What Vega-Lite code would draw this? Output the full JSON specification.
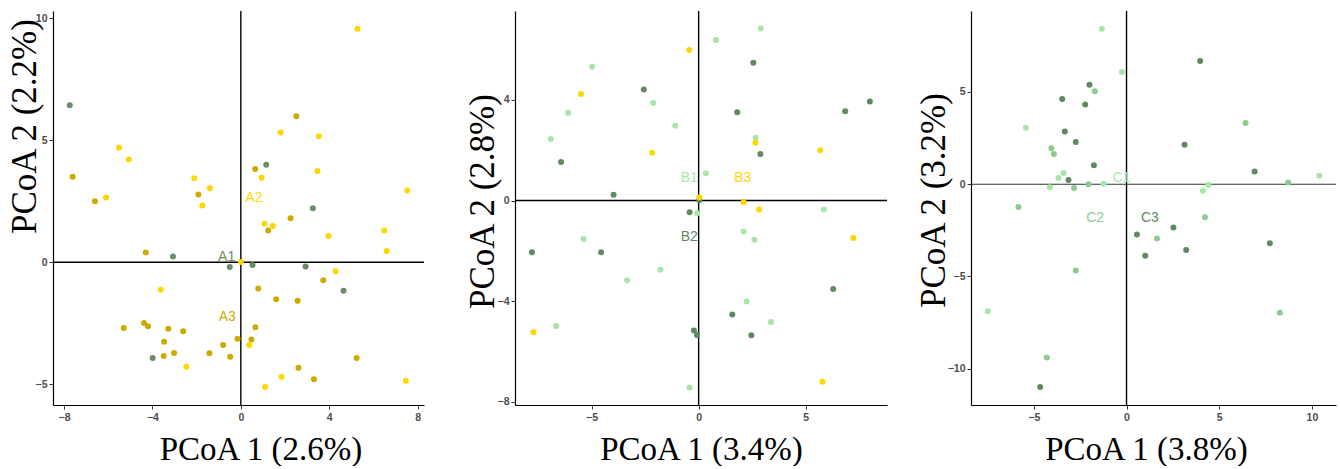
{
  "$schema": "https://vega.github.io/schema/vega-lite/v6.json",
  "padding": {"left": 6, "top": 10, "right": 0, "bottom": 0},
  "background": "white",
  "config": {
    "view": {"stroke": null},
    "axis": {
      "grid": false,
      "domainColor": "black",
      "domainWidth": 1.2,
      "tickColor": "#333333",
      "tickSize": 4,
      "tickWidth": 1,
      "labelFont": "Liberation Sans",
      "labelFontSize": 10.5,
      "labelFontWeight": "bold",
      "labelColor": "#4d4d4d",
      "titleFont": "Liberation Serif",
      "titleFontWeight": "normal",
      "titleColor": "black",
      "titleBaseline": "alphabetic",
      "titleAlign": "center"
    },
    "axisX": {"titleFontSize": 33, "labelPadding": 3, "titleY": 54},
    "axisY": {"titleFontSize": 35, "labelPadding": 2, "titleAngle": -90}
  },
  "resolve": {"scale": {"color": "independent"}},
  "datasets": {
    "p1": [
      {"x": -7.74, "y": 6.43, "g": "A1"}, {"x": 1.15, "y": 3.99, "g": "A1"}, {"x": 3.26, "y": 2.21, "g": "A1"},
      {"x": -3.07, "y": 0.23, "g": "A1"}, {"x": -0.5, "y": -0.2, "g": "A1"}, {"x": 0.53, "y": -0.12, "g": "A1"},
      {"x": 2.93, "y": -0.18, "g": "A1"}, {"x": 4.65, "y": -1.17, "g": "A1"}, {"x": -3.99, "y": -3.92, "g": "A1"},
      {"x": -5.51, "y": 4.7, "g": "A2"}, {"x": -5.07, "y": 4.21, "g": "A2"}, {"x": -6.1, "y": 2.65, "g": "A2"},
      {"x": -2.11, "y": 3.44, "g": "A2"}, {"x": -1.4, "y": 3.03, "g": "A2"}, {"x": -1.74, "y": 2.32, "g": "A2"},
      {"x": 5.28, "y": 9.56, "g": "A2"}, {"x": 1.8, "y": 5.31, "g": "A2"}, {"x": 3.53, "y": 5.16, "g": "A2"},
      {"x": 0.94, "y": 3.46, "g": "A2"}, {"x": 3.47, "y": 3.74, "g": "A2"}, {"x": 7.53, "y": 2.94, "g": "A2"},
      {"x": 1.07, "y": 1.57, "g": "A2"}, {"x": 1.45, "y": 1.48, "g": "A2"}, {"x": 3.97, "y": 1.07, "g": "A2"},
      {"x": 6.49, "y": 1.3, "g": "A2"}, {"x": 6.6, "y": 0.46, "g": "A2"}, {"x": 0.0, "y": 0.01, "g": "A2"},
      {"x": 4.29, "y": -0.37, "g": "A2"}, {"x": -3.62, "y": -1.13, "g": "A2"}, {"x": 0.38, "y": -3.39, "g": "A2"},
      {"x": -2.46, "y": -4.28, "g": "A2"}, {"x": 1.84, "y": -4.69, "g": "A2"}, {"x": 1.1, "y": -5.11, "g": "A2"},
      {"x": 7.47, "y": -4.86, "g": "A2"},
      {"x": -7.61, "y": 3.5, "g": "A3"}, {"x": -6.6, "y": 2.5, "g": "A3"}, {"x": -1.92, "y": 2.77, "g": "A3"},
      {"x": 2.51, "y": 5.98, "g": "A3"}, {"x": 0.65, "y": 3.82, "g": "A3"}, {"x": 2.25, "y": 1.8, "g": "A3"},
      {"x": 1.24, "y": 1.3, "g": "A3"}, {"x": -4.3, "y": 0.4, "g": "A3"}, {"x": 3.73, "y": -0.74, "g": "A3"},
      {"x": 0.79, "y": -1.08, "g": "A3"}, {"x": 1.6, "y": -1.52, "g": "A3"}, {"x": 2.57, "y": -1.58, "g": "A3"},
      {"x": -5.3, "y": -2.7, "g": "A3"}, {"x": -4.38, "y": -2.49, "g": "A3"}, {"x": -4.2, "y": -2.62, "g": "A3"},
      {"x": -3.28, "y": -2.73, "g": "A3"}, {"x": -2.61, "y": -2.83, "g": "A3"}, {"x": 0.66, "y": -2.66, "g": "A3"},
      {"x": -3.47, "y": -3.26, "g": "A3"}, {"x": -0.15, "y": -3.14, "g": "A3"}, {"x": 0.48, "y": -3.17, "g": "A3"},
      {"x": -0.8, "y": -3.39, "g": "A3"}, {"x": -3.02, "y": -3.72, "g": "A3"}, {"x": -3.49, "y": -3.84, "g": "A3"},
      {"x": -1.42, "y": -3.73, "g": "A3"}, {"x": -0.48, "y": -3.87, "g": "A3"}, {"x": 5.24, "y": -3.92, "g": "A3"},
      {"x": 2.61, "y": -4.32, "g": "A3"}, {"x": 3.31, "y": -4.8, "g": "A3"}
    ],
    "l1": [
      {"x": -0.64, "y": 0.21, "g": "A1"}, {"x": 0.59, "y": 2.61, "g": "A2"}, {"x": -0.61, "y": -2.25, "g": "A3"}
    ],
    "p2": [
      {"x": 2.9, "y": 6.83, "g": "B1"}, {"x": 0.81, "y": 6.38, "g": "B1"}, {"x": -4.97, "y": 5.32, "g": "B1"},
      {"x": -2.12, "y": 3.88, "g": "B1"}, {"x": -6.09, "y": 3.49, "g": "B1"}, {"x": -1.09, "y": 2.97, "g": "B1"},
      {"x": -6.9, "y": 2.45, "g": "B1"}, {"x": 2.66, "y": 2.5, "g": "B1"}, {"x": 0.34, "y": 1.09, "g": "B1"},
      {"x": 5.84, "y": -0.35, "g": "B1"}, {"x": -0.07, "y": -0.5, "g": "B1"}, {"x": 2.1, "y": -1.23, "g": "B1"},
      {"x": -5.37, "y": -1.53, "g": "B1"}, {"x": 2.6, "y": -1.56, "g": "B1"}, {"x": -1.78, "y": -2.75, "g": "B1"},
      {"x": -3.34, "y": -3.16, "g": "B1"}, {"x": 2.24, "y": -4.01, "g": "B1"}, {"x": 3.38, "y": -4.82, "g": "B1"},
      {"x": -6.65, "y": -4.98, "g": "B1"}, {"x": -0.42, "y": -7.42, "g": "B1"},
      {"x": 2.55, "y": 5.47, "g": "B2"}, {"x": -2.56, "y": 4.41, "g": "B2"}, {"x": 7.99, "y": 3.94, "g": "B2"},
      {"x": 6.84, "y": 3.55, "g": "B2"}, {"x": 1.8, "y": 3.51, "g": "B2"}, {"x": -6.42, "y": 1.53, "g": "B2"},
      {"x": 2.88, "y": 1.85, "g": "B2"}, {"x": -3.97, "y": 0.23, "g": "B2"}, {"x": 0.03, "y": 0.01, "g": "B2"},
      {"x": -0.42, "y": -0.46, "g": "B2"}, {"x": -7.78, "y": -2.05, "g": "B2"}, {"x": -4.55, "y": -2.05, "g": "B2"},
      {"x": 6.28, "y": -3.51, "g": "B2"}, {"x": 1.57, "y": -4.53, "g": "B2"}, {"x": -0.22, "y": -5.16, "g": "B2"},
      {"x": -0.08, "y": -5.34, "g": "B2"}, {"x": 2.46, "y": -5.35, "g": "B2"},
      {"x": -0.44, "y": 5.98, "g": "B3"}, {"x": -5.49, "y": 4.23, "g": "B3"}, {"x": 2.65, "y": 2.3, "g": "B3"},
      {"x": -2.17, "y": 1.9, "g": "B3"}, {"x": 5.68, "y": 2.0, "g": "B3"}, {"x": 0.03, "y": 0.13, "g": "B3"},
      {"x": 2.1, "y": -0.07, "g": "B3"}, {"x": 2.82, "y": -0.35, "g": "B3"}, {"x": 7.22, "y": -1.49, "g": "B3"},
      {"x": -7.71, "y": -5.23, "g": "B3"}, {"x": 5.78, "y": -7.2, "g": "B3"}
    ],
    "l2": [
      {"x": -0.44, "y": 0.89, "g": "B1"}, {"x": -0.44, "y": -1.44, "g": "B2"}, {"x": 2.06, "y": 0.89, "g": "B3"}
    ],
    "p3": [
      {"x": -1.33, "y": 8.42, "g": "C1"}, {"x": -0.25, "y": 6.07, "g": "C1"}, {"x": -5.43, "y": 3.05, "g": "C1"},
      {"x": 10.4, "y": 0.45, "g": "C1"}, {"x": -3.4, "y": 0.6, "g": "C1"}, {"x": -3.67, "y": 0.34, "g": "C1"},
      {"x": -1.24, "y": 0.02, "g": "C1"}, {"x": -4.14, "y": -0.16, "g": "C1"}, {"x": 4.41, "y": -0.04, "g": "C1"},
      {"x": 4.12, "y": -0.36, "g": "C1"}, {"x": -7.49, "y": -6.88, "g": "C1"},
      {"x": -1.71, "y": 5.04, "g": "C2"}, {"x": 6.42, "y": 3.32, "g": "C2"}, {"x": -4.05, "y": 1.95, "g": "C2"},
      {"x": -3.92, "y": 1.63, "g": "C2"}, {"x": -2.05, "y": 0.0, "g": "C2"}, {"x": -2.83, "y": -0.2, "g": "C2"},
      {"x": 8.72, "y": 0.09, "g": "C2"}, {"x": 4.23, "y": -1.79, "g": "C2"}, {"x": -5.83, "y": -1.23, "g": "C2"},
      {"x": 1.64, "y": -2.94, "g": "C2"}, {"x": -2.74, "y": -4.68, "g": "C2"}, {"x": 8.27, "y": -6.97, "g": "C2"},
      {"x": -4.3, "y": -9.39, "g": "C2"},
      {"x": 3.97, "y": 6.67, "g": "C3"}, {"x": -2.0, "y": 5.38, "g": "C3"}, {"x": -3.47, "y": 4.61, "g": "C3"},
      {"x": -2.23, "y": 4.32, "g": "C3"}, {"x": -3.33, "y": 2.86, "g": "C3"}, {"x": -2.74, "y": 2.28, "g": "C3"},
      {"x": 3.13, "y": 2.13, "g": "C3"}, {"x": -1.76, "y": 1.03, "g": "C3"}, {"x": 6.91, "y": 0.69, "g": "C3"},
      {"x": -3.13, "y": 0.22, "g": "C3"}, {"x": 2.53, "y": -2.35, "g": "C3"}, {"x": 0.56, "y": -2.73, "g": "C3"},
      {"x": 7.73, "y": -3.2, "g": "C3"}, {"x": 1.01, "y": -3.88, "g": "C3"}, {"x": 3.22, "y": -3.56, "g": "C3"},
      {"x": -4.66, "y": -10.98, "g": "C3"}
    ],
    "l3": [
      {"x": -0.27, "y": 0.33, "g": "C1"}, {"x": -1.69, "y": -1.83, "g": "C2"}, {"x": 1.26, "y": -1.83, "g": "C3"}
    ]
  },
  "hconcat": [
    {
      "width": 371,
      "height": 394,
      "layer": [
        {
          "data": {"values": [{}]},
          "mark": {"type": "rule", "color": "black", "strokeWidth": 1.4},
          "encoding": {"x": {"datum": 0, "type": "quantitative", "scale": {"domain": [-8.5, 8.29], "nice": false, "zero": false}}}
        },
        {
          "data": {"values": [{}]},
          "mark": {"type": "rule", "color": "black", "strokeWidth": 1.4},
          "encoding": {"y": {"datum": 0, "type": "quantitative", "scale": {"domain": [-5.85, 10.29], "nice": false, "zero": false}}}
        },
        {
          "data": {"name": "p1"},
          "mark": {"type": "circle", "size": 36, "opacity": 1},
          "encoding": {
            "x": {"field": "x", "type": "quantitative", "scale": {"domain": [-8.5, 8.29], "nice": false, "zero": false},
                  "axis": {"title": "PCoA 1 (2.6%)", "values": [-8, -4, 0, 4, 8], "titleX": 207.5}},
            "y": {"field": "y", "type": "quantitative", "scale": {"domain": [-5.85, 10.29], "nice": false, "zero": false},
                  "axis": {"title": "PCoA 2 (2.2%)", "values": [-5, 0, 5, 10], "titleX": -18, "titleY": 115}},
            "color": {"field": "g", "type": "nominal", "scale": {"domain": ["A1", "A2", "A3"], "range": ["#698c69", "#ffd700", "#cdaa00"]}, "legend": null}
          }
        },
        {
          "data": {"name": "l1"},
          "mark": {"type": "text", "font": "Liberation Sans", "fontSize": 14, "baseline": "middle", "align": "center"},
          "encoding": {
            "x": {"field": "x", "type": "quantitative", "scale": {"domain": [-8.5, 8.29], "nice": false, "zero": false}},
            "y": {"field": "y", "type": "quantitative", "scale": {"domain": [-5.85, 10.29], "nice": false, "zero": false}},
            "text": {"field": "g"},
            "color": {"field": "g", "type": "nominal", "scale": {"domain": ["A1", "A2", "A3"], "range": ["#698c69", "#ffd700", "#cdaa00"]}, "legend": null}
          }
        }
      ]
    },
    {
      "spacing": 28,
      "resolve": {"scale": {"color": "independent"}},
      "hconcat": [
        {
          "width": 372,
          "height": 394,
          "layer": [
            {
              "data": {"values": [{}]},
              "mark": {"type": "rule", "color": "black", "strokeWidth": 1.4},
              "encoding": {"x": {"datum": 0, "type": "quantitative", "scale": {"domain": [-8.57, 8.79], "nice": false, "zero": false}}}
            },
            {
              "data": {"values": [{}]},
              "mark": {"type": "rule", "color": "black", "strokeWidth": 1.4},
              "encoding": {"y": {"datum": 0, "type": "quantitative", "scale": {"domain": [-8.12, 7.53], "nice": false, "zero": false}}}
            },
            {
              "data": {"name": "p2"},
              "mark": {"type": "circle", "size": 36, "opacity": 1},
              "encoding": {
                "x": {"field": "x", "type": "quantitative", "scale": {"domain": [-8.57, 8.79], "nice": false, "zero": false},
                      "axis": {"title": "PCoA 1 (3.4%)", "values": [-5, 0, 5], "titleX": 186}},
                "y": {"field": "y", "type": "quantitative", "scale": {"domain": [-8.12, 7.53], "nice": false, "zero": false},
                      "axis": {"title": "PCoA 2 (2.8%)", "values": [-8, -4, 0, 4], "titleX": -22, "titleY": 190}},
                "color": {"field": "g", "type": "nominal", "scale": {"domain": ["B1", "B2", "B3"], "range": ["#a8e6a8", "#5f8a5f", "#ffd700"]}, "legend": null}
              }
            },
            {
              "data": {"name": "l2"},
              "mark": {"type": "text", "font": "Liberation Sans", "fontSize": 14, "baseline": "middle", "align": "center"},
              "encoding": {
                "x": {"field": "x", "type": "quantitative", "scale": {"domain": [-8.57, 8.79], "nice": false, "zero": false}},
                "y": {"field": "y", "type": "quantitative", "scale": {"domain": [-8.12, 7.53], "nice": false, "zero": false}},
                "text": {"field": "g"},
                "color": {"field": "g", "type": "nominal", "scale": {"domain": ["B1", "B2", "B3"], "range": ["#a8e6a8", "#5f8a5f", "#ffd700"]}, "legend": null}
              }
            }
          ]
        },
        {
          "width": 365,
          "height": 394,
          "layer": [
            {
              "data": {"values": [{}]},
              "mark": {"type": "rule", "color": "black", "strokeWidth": 1.4},
              "encoding": {"x": {"datum": 0, "type": "quantitative", "scale": {"domain": [-8.39, 11.3], "nice": false, "zero": false}}}
            },
            {
              "data": {"values": [{}]},
              "mark": {"type": "rule", "color": "#333333", "strokeWidth": 1.1},
              "encoding": {"y": {"datum": 0, "type": "quantitative", "scale": {"domain": [-11.96, 9.38], "nice": false, "zero": false}}}
            },
            {
              "data": {"name": "p3"},
              "mark": {"type": "circle", "size": 36, "opacity": 1},
              "encoding": {
                "x": {"field": "x", "type": "quantitative", "scale": {"domain": [-8.39, 11.3], "nice": false, "zero": false},
                      "axis": {"title": "PCoA 1 (3.8%)", "values": [-5, 0, 5, 10], "titleX": 175}},
                "y": {"field": "y", "type": "quantitative", "scale": {"domain": [-11.96, 9.38], "nice": false, "zero": false},
                      "axis": {"title": "PCoA 2 (3.2%)", "values": [-10, -5, 0, 5], "titleX": -27, "titleY": 189}},
                "color": {"field": "g", "type": "nominal", "scale": {"domain": ["C1", "C2", "C3"], "range": ["#a8e6a8", "#8dcb8d", "#5f8a5f"]}, "legend": null}
              }
            },
            {
              "data": {"name": "l3"},
              "mark": {"type": "text", "font": "Liberation Sans", "fontSize": 14, "baseline": "middle", "align": "center"},
              "encoding": {
                "x": {"field": "x", "type": "quantitative", "scale": {"domain": [-8.39, 11.3], "nice": false, "zero": false}},
                "y": {"field": "y", "type": "quantitative", "scale": {"domain": [-11.96, 9.38], "nice": false, "zero": false}},
                "text": {"field": "g"},
                "color": {"field": "g", "type": "nominal", "scale": {"domain": ["C1", "C2", "C3"], "range": ["#a8e6a8", "#8dcb8d", "#5f8a5f"]}, "legend": null}
              }
            }
          ]
        }
      ]
    }
  ],
  "spacing": 40
}
